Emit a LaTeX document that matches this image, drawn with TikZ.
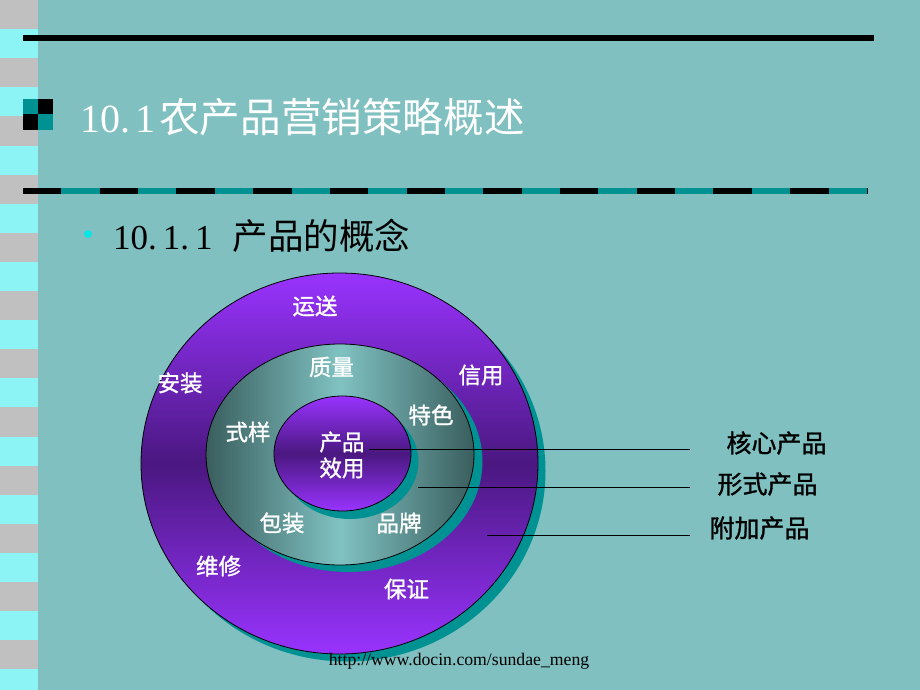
\documentclass[tikz,border=0pt]{standalone}
\usepackage{fontspec}
\setmainfont{Liberation Serif}
\newfontfamily\cjk{Noto Sans CJK SC}
\newfontfamily\cjkb[FakeBold=1.2]{Noto Sans CJK SC}
\definecolor{bg}{RGB}{128,192,192}
\definecolor{stripegray}{RGB}{192,192,192}
\definecolor{stripecyan}{RGB}{140,244,244}
\definecolor{myteal}{RGB}{0,146,146}
\definecolor{pbright}{RGB}{153,51,255}
\definecolor{pdark}{RGB}{74,24,128}
\definecolor{gdark}{RGB}{58,94,94}
\definecolor{glight}{RGB}{128,194,194}
\definecolor{bulletc}{RGB}{0,232,232}
\tikzset{
  lab/.style={inner sep=0pt, text=white, font={\cjkb\fontsize{22.5pt}{27pt}\selectfont}},
  rlab/.style={inner sep=0pt, text=black, font={\cjkb\fontsize{25pt}{30pt}\selectfont}},
  conn/.style={black, line width=0.8pt},
  rim/.style={draw=black, line width=0.8pt},
}
\begin{document}
\begin{tikzpicture}[x=1pt,y=-1pt]
\useasboundingbox (0,0) rectangle (920,690);
\fill[bg] (0,0) rectangle (920,690);
% left striped border
\fill[stripecyan] (0,0) rectangle (38,690);
\foreach \i in {0,2,...,22} {
  \fill[stripegray] (0,{\i*29.1}) rectangle (38,{\i*29.1+29.1});
}
% top rule
\draw[black, line width=6pt] (23,38) -- (874,38);
% checker square
\fill[myteal] (23,99) rectangle (38,114.5);
\fill[black] (38,99) rectangle (53,114.5);
\fill[black] (23,114.5) rectangle (38,130);
\fill[myteal] (38,114.5) rectangle (53,130);
% title
\node[anchor=west, inner sep=0pt, text=white, font={\fontsize{40pt}{48pt}\selectfont}] (title) at (80,117)
  {10.\hspace{5pt}1\hspace{4pt}{\cjk\fontsize{40.6pt}{48pt}\selectfont 农产品营销策略概述}};
% dashed rule
\draw[myteal, line width=6pt] (23,191) -- (867,191);
\draw[black, line width=6pt, dash pattern=on 38.36pt off 38.36pt] (23,191) -- (867,191);
% bullet and subtitle
\fill[bulletc] (88,234) circle (3.8pt);
\node[anchor=west, inner sep=0pt, text=black, font={\fontsize{35pt}{42pt}\selectfont}] (sub) at (113,236)
  {10.\hspace{6pt}1.\hspace{6pt}1\hspace{20pt}{\cjk\fontsize{35.5pt}{42pt}\selectfont 产品的概念}};
% outer ring
\fill[myteal] (347,471) ellipse [x radius=198.5pt, y radius=190.5pt];
\path[rim, top color=pbright, bottom color=pbright, middle color=pdark] (339.5,463.5) ellipse [x radius=198.5pt, y radius=190.5pt];
% middle ring
\fill[myteal] (348.5,461.5) ellipse [x radius=134pt, y radius=110.5pt];
\path[rim, left color=gdark, right color=gdark, middle color=glight] (340,454.5) ellipse [x radius=134pt, y radius=110.5pt];
% core
\fill[myteal] (350,461.5) ellipse [x radius=68.5pt, y radius=57.5pt];
\path[rim, top color=pbright, bottom color=pbright, middle color=pdark] (342.5,453.5) ellipse [x radius=68.5pt, y radius=57.5pt];
% labels
\node[lab] (yunsong) at (315,306) {运送};
\node[lab] (zhiliang) at (331.5,367) {质量};
\node[lab] (anzhuang) at (180,383) {安装};
\node[lab] (xinyong) at (481,375) {信用};
\node[lab] (tese) at (431,415) {特色};
\node[lab] (shiyang) at (248,432) {式样};
\node[lab] (chanpin) at (342,442) {产品};
\node[lab] (xiaoyong) at (342,468) {效用};
\node[lab] (baozhuang) at (282,523) {包装};
\node[lab] (pinpai) at (399,523) {品牌};
\node[lab] (weixiu) at (218.5,566) {维修};
\node[lab] (baozheng) at (406.5,589) {保证};
% connectors
\coordinate (s1) at (369,449.5);
\coordinate (e1) at (690,449.5);
\coordinate (s2) at (418,487.5);
\coordinate (e2) at (690,487.5);
\coordinate (s3) at (487,535.5);
\coordinate (e3) at (690,535.5);
\draw[conn] (s1) -- (e1);
\draw[conn] (s2) -- (e2);
\draw[conn] (s3) -- (e3);
\node[rlab] (hexin) at (776.5,443) {核心产品};
\node[rlab] (xingshi) at (767.5,484) {形式产品};
\node[rlab] (fujia) at (759.5,528) {附加产品};
% footer
\node[inner sep=0pt, text=black, font={\fontsize{17.7pt}{21pt}\selectfont}] (footer) at (459,661)
  {http://www.docin.com/sundae\_meng};
\end{tikzpicture}
\end{document}
